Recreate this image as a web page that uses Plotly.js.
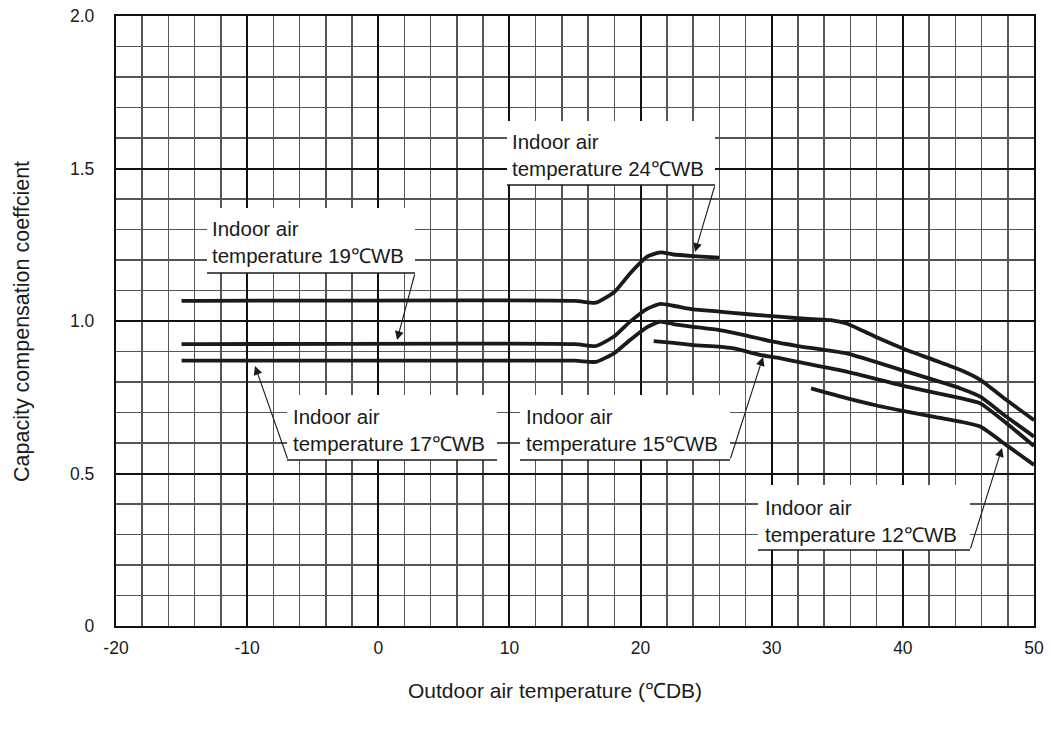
<!DOCTYPE html>
<html>
<head>
<meta charset="utf-8">
<script src="https://cdn.plot.ly/plotly-3.0.1.min.js"></script>
<style>html,body{margin:0;padding:0;background:#fff;}#chart{width:1051px;height:731px;}</style>
</head>
<body>
<div id="chart"></div>
<script>
// ---- data ----
const xWB24 = [-15, 15, 16.6, 18, 19.2, 20.5, 21.5, 22.5, 24, 26];
const yWB24 = [1.066, 1.066, 1.060, 1.095, 1.156, 1.211, 1.225, 1.218, 1.213, 1.208];

const xWB19 = [-15, 15, 16.6, 18, 19.2, 20.5, 21.5, 22.5, 24, 26, 28, 30, 32, 34.5, 35.7, 38, 40.3, 42.5, 44.4, 45.9, 47.9, 50];
const yWB19 = [0.924, 0.924, 0.918, 0.950, 0.998, 1.040, 1.056, 1.050, 1.038, 1.031, 1.023, 1.016, 1.009, 1.003, 0.992, 0.947, 0.905, 0.870, 0.839, 0.807, 0.741, 0.675];

const xWB17 = [-15, 15, 16.6, 18, 19.2, 20.5, 21.5, 22.5, 24, 26, 28, 30, 32, 35.7, 40.3, 44.4, 45.9, 47.9, 50];
const yWB17 = [0.870, 0.870, 0.866, 0.895, 0.938, 0.980, 0.998, 0.990, 0.981, 0.970, 0.953, 0.933, 0.918, 0.894, 0.834, 0.779, 0.752, 0.686, 0.621];

const xWB15 = [21, 22.5, 24, 26, 27.1, 29.1, 30.6, 32.2, 35.7, 40.3, 44.4, 45.9, 47.9, 50];
const yWB15 = [0.934, 0.928, 0.921, 0.916, 0.910, 0.889, 0.878, 0.864, 0.834, 0.785, 0.747, 0.730, 0.665, 0.590];

const xWB12 = [33, 35.7, 38, 40.3, 42.5, 44.4, 45.9, 47.9, 50];
const yWB12 = [0.779, 0.747, 0.723, 0.703, 0.685, 0.670, 0.654, 0.593, 0.528];

const xTickVals = [-20, -10, 0, 10, 20, 30, 40, 50];
const xTickText = ['-20', '-10', '0', '10', '20', '30', '40', '50'];
const yTickVals = [0, 0.5, 1.0, 1.5, 2.0];
const yTickText = ['0', '0.5', '1.0', '1.5', '2.0'];

const xTitle = 'Outdoor air temperature (℃DB)';
const yTitle = 'Capacity compensation coeffcient';

const labelTexts = [
  'Indoor air<br>temperature 24℃WB',
  'Indoor air<br>temperature 19℃WB',
  'Indoor air<br>temperature 17℃WB',
  'Indoor air<br>temperature 15℃WB',
  'Indoor air<br>temperature 12℃WB'
];

// ---- traces ----
const lineStyle = {color: '#1a1a1a', width: 3.8, shape: 'spline', smoothing: 0.5};
const series = [[xWB24, yWB24], [xWB19, yWB19], [xWB17, yWB17], [xWB15, yWB15], [xWB12, yWB12]];
const traces = series.map(s => ({
  x: s[0], y: s[1], type: 'scatter', mode: 'lines', line: lineStyle, hoverinfo: 'skip', showlegend: false
}));

// ---- label geometry (pixel-derived placement, in data coords) ----
const px2x = p => (p - 116) / 13.114 - 20;
const py2y = p => (626 - p) / 305;
const labels = [
  {box: [507, 715, 121, 185], lead: [715, 185, 695, 252], tx: 510, ty: 142},
  {box: [207, 415, 208, 273], lead: [415, 273, 397, 340], tx: 210, ty: 229},
  {box: [287, 497, 395, 460], lead: [288, 460, 255, 366], tx: 291, ty: 417},
  {box: [520, 730, 395, 460], lead: [730, 460, 763, 357], tx: 524, ty: 417},
  {box: [758, 970, 485, 550], lead: [970, 550, 1002, 448], tx: 763, ty: 508}
];

const shapes = [];
const annotations = [];
labels.forEach((L, i) => {
  shapes.push({type: 'rect', xref: 'x', yref: 'y', layer: 'between',
    x0: px2x(L.box[0]), x1: px2x(L.box[1]), y0: py2y(L.box[2]), y1: py2y(L.box[3]),
    fillcolor: '#ffffff', line: {width: 0}});
  shapes.push({type: 'line', xref: 'x', yref: 'y', layer: 'above',
    x0: px2x(L.box[0]), x1: px2x(L.box[1]), y0: py2y(L.box[3]), y1: py2y(L.box[3]),
    line: {color: '#1a1a1a', width: 1.3}});
  annotations.push({xref: 'x', yref: 'y', x: px2x(L.lead[2]), y: py2y(L.lead[3]),
    axref: 'x', ayref: 'y', ax: px2x(L.lead[0]), ay: py2y(L.lead[1]),
    text: '', showarrow: true, arrowhead: 2, arrowsize: 1.6, arrowwidth: 1.1, arrowcolor: '#1a1a1a'});
  annotations.push({xref: 'x', yref: 'y', x: px2x(L.tx), y: py2y(L.ty + 12.5),
    xanchor: 'left', yanchor: 'middle', align: 'left', showarrow: false,
    text: labelTexts[i], font: {family: 'Liberation Sans, Arial, sans-serif', size: 20.5, color: '#1a1a1a'}});
});

// axis titles placed as paper annotations
annotations.push({xref: 'paper', yref: 'paper', x: (555 - 116) / 918, y: -(690 - 626) / 610,
  xanchor: 'center', yanchor: 'middle', showarrow: false, text: xTitle,
  font: {family: 'Liberation Sans, Arial, sans-serif', size: 21, color: '#1a1a1a'}});
annotations.push({xref: 'paper', yref: 'paper', x: (22 - 116) / 918, y: (626 - 322) / 610,
  xanchor: 'center', yanchor: 'middle', showarrow: false, textangle: -90, text: yTitle,
  font: {family: 'Liberation Sans, Arial, sans-serif', size: 21.5, color: '#1a1a1a'}});

const layout = {
  width: 1051, height: 731,
  margin: {l: 116, r: 17, t: 16, b: 105},
  paper_bgcolor: '#ffffff', plot_bgcolor: '#ffffff',
  showlegend: false,
  font: {family: 'Liberation Sans, Arial, sans-serif', color: '#1a1a1a'},
  xaxis: {
    range: [-20, 50], tickvals: xTickVals, ticktext: xTickText,
    showgrid: true, gridcolor: '#111111', gridwidth: 2,
    minor: {dtick: 2, tick0: 0, showgrid: true, gridcolor: '#555555', gridwidth: 1.5},
    zeroline: false, showline: true, mirror: true, linecolor: '#111111', linewidth: 2.2,
    ticks: '', ticklabelstandoff: 5,
    tickfont: {family: 'Liberation Sans, Arial, sans-serif', size: 17.5},
    fixedrange: true
  },
  yaxis: {
    range: [0, 2], tickvals: yTickVals, ticktext: yTickText,
    showgrid: true, gridcolor: '#111111', gridwidth: 2,
    minor: {dtick: 0.1, tick0: 0, showgrid: true, gridcolor: '#555555', gridwidth: 1.5},
    zeroline: false, showline: true, mirror: true, linecolor: '#111111', linewidth: 2.2,
    ticks: '', ticklabelstandoff: 16,
    tickfont: {family: 'Liberation Sans, Arial, sans-serif', size: 17.5},
    fixedrange: true
  },
  shapes: shapes,
  annotations: annotations
};

Plotly.newPlot('chart', traces, layout, {staticPlot: true, displayModeBar: false});
</script>
</body>
</html>
